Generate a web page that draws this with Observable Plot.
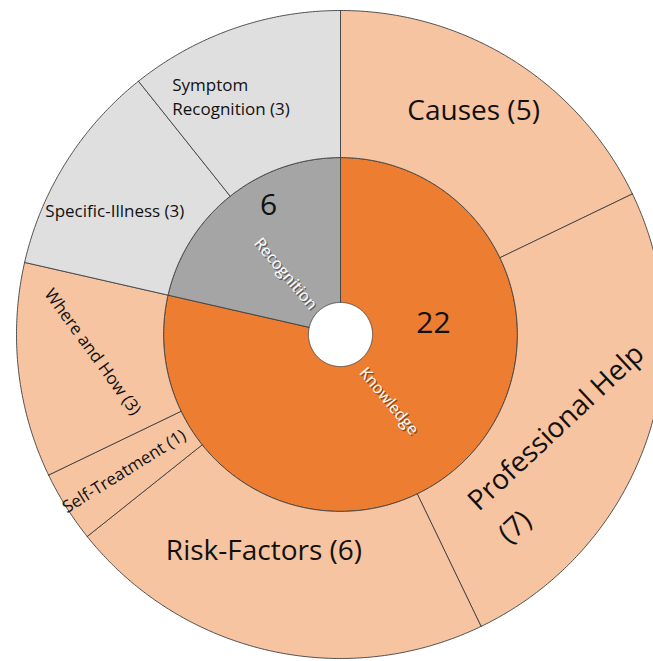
<!DOCTYPE html>
<html>
<head>
<meta charset="utf-8">
<script src="https://cdn.jsdelivr.net/npm/d3@7"></script>
<script src="https://cdn.jsdelivr.net/npm/@observablehq/plot@0.6"></script>
<style>
  html, body { margin: 0; padding: 0; background: #fff; }
  #chart svg { display: block; }
</style>
</head>
<body>
<div id="chart"></div>
<script>
// Inner ring: themes
const themes = ["Knowledge", "Recognition"];
const themeCounts = [22, 6];

// Outer ring: sub-themes, clockwise from 12 o'clock
const subthemes = ["Causes", "Professional Help", "Risk-Factors", "Self-Treatment",
                   "Where and How", "Specific-Illness", "Symptom Recognition"];
const subthemeCounts = [5, 7, 6, 1, 3, 3, 3];
const subthemeParent = ["Knowledge", "Knowledge", "Knowledge", "Knowledge",
                        "Knowledge", "Recognition", "Recognition"];

// Fills per theme (inner, outer ring)
const innerFill = {Knowledge: "#ED7D31", Recognition: "#A5A5A5"};
const outerFill = {Knowledge: "#F7C4A1", Recognition: "#DFDFDF"};

// Ring radii, in units of the outer radius
const R_HOLE = 0.099, R_MID = 0.546, R_OUT = 1;

// Label placement: angle (degrees clockwise from 12 o'clock), radius, rotation, size
const labelPlacement = {
  "Causes":              {angle: 30.6,  radius: 0.807, rotate: 0,   size: 28},
  "Professional Help":   {angle: 141.9, radius: 0.719, rotate: -43, size: 28, anchor: "start", wrap: true, lineHeight: 1.6},
  "Risk-Factors":        {angle: 199.6, radius: 0.704, rotate: 0,   size: 28},
  "Self-Treatment":      {angle: 237.9, radius: 0.790, rotate: -32, size: 17},
  "Where and How":       {angle: 266.1, radius: 0.764, rotate: 54,  size: 17},
  "Specific-Illness":    {angle: 298.7, radius: 0.794, rotate: 0,   size: 17},
  "Symptom Recognition": {angle: 324.9, radius: 0.903, rotate: 0,   size: 17, anchor: "start", wrap: true, lineHeight: 1.39}
};
const valuePlacement = {
  Knowledge:   {angle: 82.9,  radius: 0.289, size: 30},
  Recognition: {angle: 330.8, radius: 0.455, size: 30}
};
const namePlacement = {
  Knowledge:   {angle: 144.1, radius: 0.254, rotate: 50, size: 16},
  Recognition: {angle: 317.8, radius: 0.253, rotate: 50, size: 16}
};

const total = d3.sum(themeCounts);
const toRad = (deg) => deg * Math.PI / 180;
const polar = (deg, r) => ({x: r * Math.sin(toRad(deg)), y: r * Math.cos(toRad(deg))});

// Closed polygon outlining an annular sector
function sector(name, a0, a1, r0, r1, fill) {
  const n = Math.max(2, Math.ceil((a1 - a0) / 0.5));
  const pts = [];
  for (let i = 0; i <= n; i++) pts.push(polar(a0 + (a1 - a0) * i / n, r1));
  for (let i = n; i >= 0; i--) pts.push(polar(a0 + (a1 - a0) * i / n, r0));
  pts.push(pts[0]);
  return pts.map(p => ({...p, name, fill}));
}

const sectors = [];
let acc = 0;
themes.forEach((t, i) => {
  const a0 = acc / total * 360, a1 = (acc + themeCounts[i]) / total * 360;
  sectors.push(...sector("in-" + t, a0, a1, R_HOLE, R_MID, innerFill[t]));
  acc += themeCounts[i];
});
acc = 0;
subthemes.forEach((s, i) => {
  const a0 = acc / total * 360, a1 = (acc + subthemeCounts[i]) / total * 360;
  sectors.push(...sector("out-" + s, a0, a1, R_MID, R_OUT, outerFill[subthemeParent[i]]));
  acc += subthemeCounts[i];
});

const FONT = "Open Sans, Noto Sans, sans-serif";
const INK = "#111111";

// Sub-theme labels "Name (count)"
const subLabelMarks = subthemes.map((s, i) => {
  const p = labelPlacement[s];
  let text = `${s} (${subthemeCounts[i]})`;
  if (p.wrap) {
    const words = s.split(" ");
    text = s === "Professional Help" ? `${s}\n(${subthemeCounts[i]})`
                                     : `${words[0]}\n${words.slice(1).join(" ")} (${subthemeCounts[i]})`;
  }
  const pos = polar(p.angle, p.radius);
  return Plot.text([{...pos, text}], {
    x: "x", y: "y", text: "text",
    rotate: p.rotate, fontSize: p.size, fontFamily: FONT, fill: INK,
    textAnchor: p.anchor || "middle", lineHeight: p.lineHeight || 1.2
  });
});

// Theme totals
const valueMarks = themes.map((t, i) => {
  const p = valuePlacement[t];
  return Plot.text([{...polar(p.angle, p.radius), text: String(themeCounts[i])}], {
    x: "x", y: "y", text: "text", fontSize: p.size, fontFamily: FONT, fill: INK
  });
});

// Theme names, white with a soft drop shadow
const nameData = themes.map(t => ({...polar(namePlacement[t].angle, namePlacement[t].radius), text: t}));
const nameShadow = Plot.text(nameData, {
  x: "x", y: "y", text: "text", rotate: 50, fontSize: 16, fontFamily: FONT,
  fill: "#000", fillOpacity: 0.45, dx: 1.2, dy: 1.4
});
const nameMark = Plot.text(nameData, {
  x: "x", y: "y", text: "text", rotate: 50, fontSize: 16, fontFamily: FONT, fill: "#ffffff"
});

const chart = Plot.plot({
  width: 653,
  height: 661,
  margin: 0,
  x: {domain: [-340 / 324, 313 / 324], axis: null},
  y: {domain: [-327 / 324, 334 / 324], axis: null},
  color: {type: "identity"},
  style: {background: "#ffffff", fontFamily: FONT, overflow: "hidden"},
  marks: [
    Plot.line(sectors, {
      x: "x", y: "y", z: "name", fill: "fill", curve: "linear",
      stroke: "#404040", strokeWidth: 0.9, strokeLinejoin: "round"
    }),
    ...subLabelMarks,
    ...valueMarks,
    nameShadow,
    nameMark
  ]
});

document.getElementById("chart").appendChild(chart);
</script>
</body>
</html>
